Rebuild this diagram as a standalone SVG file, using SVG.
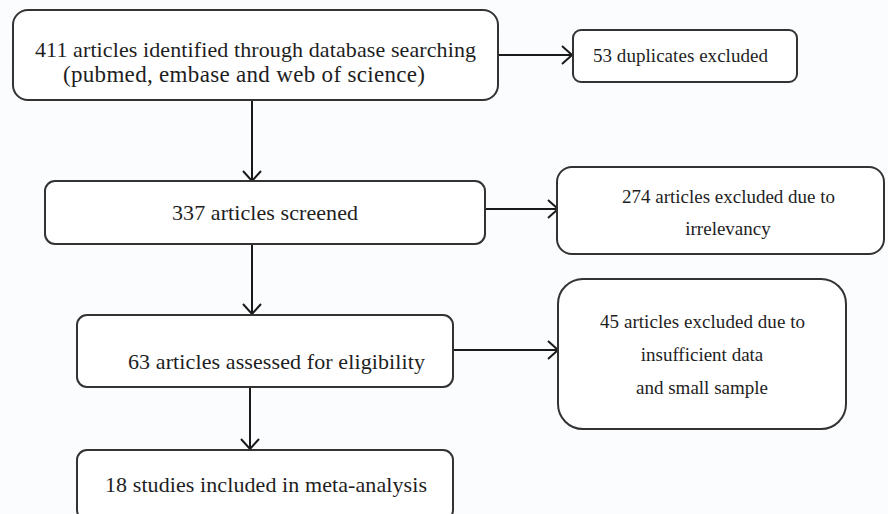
<svg xmlns="http://www.w3.org/2000/svg" width="888" height="514" viewBox="0 0 888 514">
  <style>
    .box { fill: #ffffff; stroke: #333333; stroke-width: 2; }
    .conn { stroke: #1a1a1a; stroke-width: 2; fill: none; marker-end: url(#arr); }
  </style>
  <defs>
    <marker id="arr" viewBox="0 0 12 20" refX="11" refY="10" markerWidth="12" markerHeight="20" markerUnits="userSpaceOnUse" orient="auto">
      <path d="M1,1 L11,10 L1,19" fill="none" stroke="#1a1a1a" stroke-width="2"/>
    </marker>
  </defs>
  <rect x="0" y="0" width="888" height="514" fill="#fbfcfe"/>

  <g id="connectors">
    <line class="conn" x1="498" y1="55" x2="572" y2="55"/>
    <line class="conn" x1="252" y1="100" x2="252" y2="181"/>
    <line class="conn" x1="485" y1="209" x2="558" y2="209"/>
    <line class="conn" x1="252" y1="244" x2="252" y2="314"/>
    <line class="conn" x1="453" y1="350" x2="558" y2="350"/>
    <line class="conn" x1="250" y1="387" x2="250" y2="449"/>
  </g>

  <g font-family="Liberation Serif, DejaVu Serif, serif" fill="#1e1e1e">
  <g id="n1">
    <rect class="box" x="13" y="10" width="485" height="90" rx="15"/>
    <text font-size="22" x="35" y="57" textLength="441">411 articles identified through database searching</text>
    <text font-size="23" x="63" y="82" textLength="362">(pubmed, embase and web of science)</text>
  </g>

  <g id="n2">
    <rect class="box" x="573" y="30" width="224" height="52" rx="8"/>
    <text font-size="19" x="593" y="62" textLength="175">53 duplicates excluded</text>
  </g>

  <g id="n3">
    <rect class="box" x="45" y="181" width="440" height="63" rx="10"/>
    <text font-size="22" x="172" y="220" textLength="186">337 articles screened</text>
  </g>

  <g id="n4">
    <rect class="box" x="557" y="167" width="327" height="87" rx="15"/>
    <text font-size="19" x="622" y="203" textLength="213">274 articles excluded due to</text>
    <text font-size="19" x="728" y="235" text-anchor="middle">irrelevancy</text>
  </g>

  <g id="n5">
    <rect class="box" x="77" y="315" width="376" height="72" rx="10"/>
    <text font-size="22" x="128" y="369" textLength="297">63 articles assessed for eligibility</text>
  </g>

  <g id="n6">
    <rect class="box" x="558" y="279" width="288" height="150" rx="25"/>
    <text font-size="19" x="600" y="328" textLength="205">45 articles excluded due to</text>
    <text font-size="19" x="702" y="361" text-anchor="middle">insufficient data</text>
    <text font-size="19" x="702" y="394" text-anchor="middle">and small sample</text>
  </g>

  <g id="n7">
    <rect class="box" x="77" y="450" width="376" height="70" rx="10"/>
    <text font-size="22" x="105" y="492" textLength="322">18 studies included in meta-analysis</text>
  </g>
  </g>
</svg>
